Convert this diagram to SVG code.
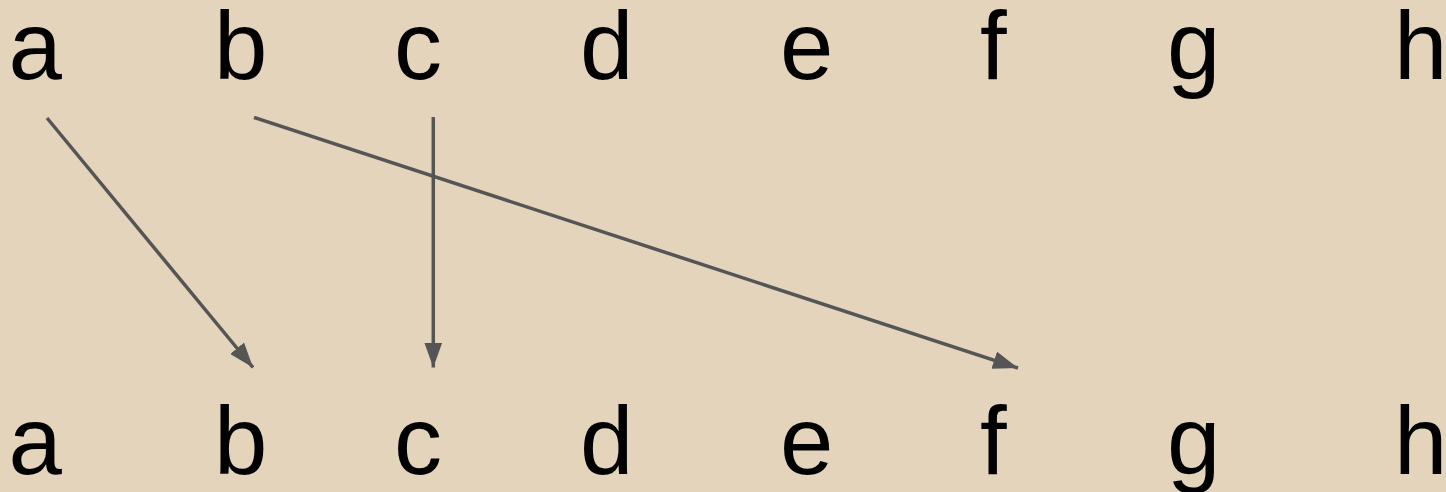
<svg xmlns="http://www.w3.org/2000/svg" width="1446" height="492" viewBox="0 0 1446 492">
<style>
.t{font-family:"Liberation Sans",Arial,sans-serif;font-size:96px;fill:#000}
.c{stroke:#555;stroke-width:3.5;fill:none}
</style>
<defs>
<marker id="ah" markerUnits="userSpaceOnUse" markerWidth="26" markerHeight="18" refX="25" refY="9" orient="auto" viewBox="0 0 26 18">
<path d="M0,0 L25,9 L0,18 z" fill="#555"/>
</marker>
</defs>
<rect width="1446" height="492" fill="#E4D4BC"/>
<g id="top-a"><text class="t" x="8.5" y="79">a</text></g>
<g id="top-b"><text class="t" x="214" y="79">b</text></g>
<g id="top-c"><text class="t" x="394" y="79">c</text></g>
<g id="top-d"><text class="t" x="580" y="79">d</text></g>
<g id="top-e"><text class="t" x="780" y="79">e</text></g>
<g id="top-f"><text class="t" x="980" y="79">f</text></g>
<g id="top-g"><text class="t" x="1167" y="79">g</text></g>
<g id="top-h"><text class="t" x="1394" y="79">h</text></g>
<g id="bot-a"><text class="t" x="8.5" y="474">a</text></g>
<g id="bot-b"><text class="t" x="214" y="474">b</text></g>
<g id="bot-c"><text class="t" x="394" y="474">c</text></g>
<g id="bot-d"><text class="t" x="580" y="474">d</text></g>
<g id="bot-e"><text class="t" x="780" y="474">e</text></g>
<g id="bot-f"><text class="t" x="980" y="474">f</text></g>
<g id="bot-g"><text class="t" x="1167" y="474">g</text></g>
<g id="bot-h"><text class="t" x="1394" y="474">h</text></g>
<g id="connectors">
<line class="c" x1="47" y1="118" x2="253" y2="367.5" marker-end="url(#ah)"/>
<line class="c" x1="433.3" y1="117" x2="433.3" y2="367.5" marker-end="url(#ah)"/>
<line class="c" x1="254" y1="117.5" x2="1018" y2="368" marker-end="url(#ah)"/>
</g>
</svg>
